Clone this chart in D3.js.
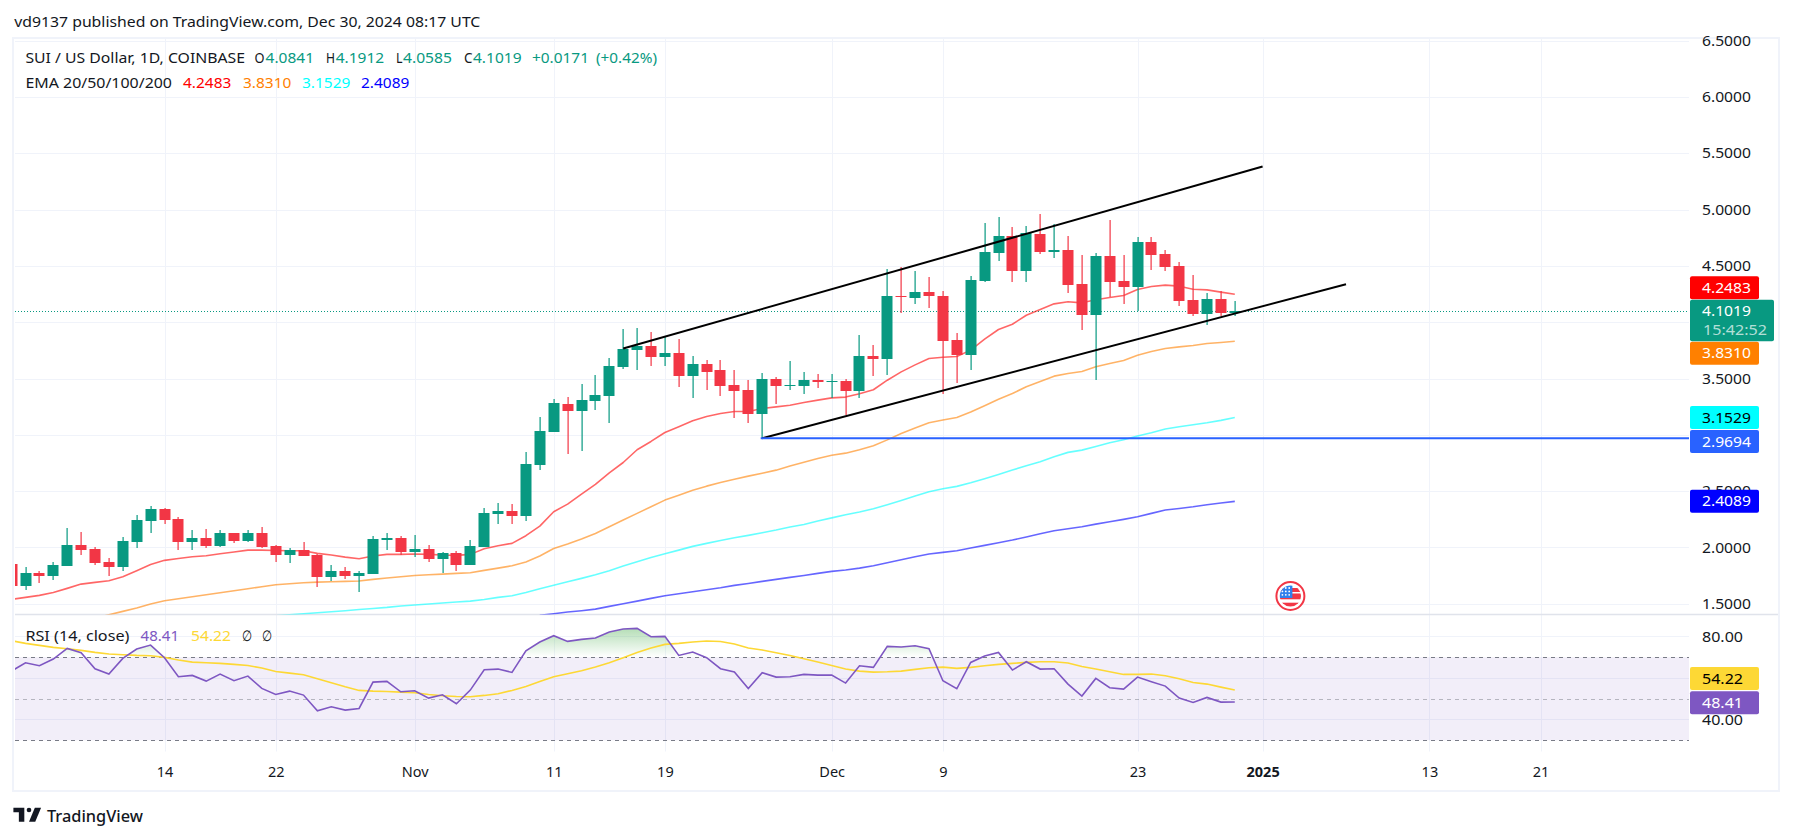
<!DOCTYPE html>
<html><head><meta charset="utf-8">
<style>html,body{margin:0;padding:0;background:#fff}svg{display:block}text{font-family:"Noto Sans",sans-serif}</style>
<script src="https://cdn.jsdelivr.net/npm/d3@7/dist/d3.min.js"></script>
</head><body><svg id="c" width="1793" height="839"></svg>
<script>
const opens=[1.852,1.657,1.772,1.745,1.834,2.021,1.985,1.870,1.825,2.047,2.234,
2.340,2.252,2.047,2.083,2.012,2.127,2.056,2.127,2.012,1.932,1.976,1.932,1.737,1.790,1.745,1.763,2.065,2.083,1.959,1.985,1.896,1.950,1.843,2.003,2.296,2.323,2.278,2.731,3.024,
3.272,3.210,3.299,3.343,3.601,3.752,3.787,3.689,3.725,3.521,3.627,3.574,3.441,3.396,3.183,3.494,3.432,3.432,3.485,3.467,3.476,3.388,3.698,
3.672,4.231,4.213,4.267,4.231,3.840,3.707,4.364,4.613,4.764,4.453,4.782,4.622,4.640,4.338,4.062,4.586,4.364,4.311,4.711,4.604,4.498,4.196,4.071,4.204,4.0841];
const highs=[1.873,1.825,1.790,1.870,2.172,2.136,2.003,1.905,2.092,2.287,2.367,
2.349,2.269,2.154,2.163,2.154,2.127,2.154,2.181,2.021,1.994,2.047,1.941,1.843,1.825,1.790,2.101,2.127,2.101,2.110,2.021,1.959,1.967,2.065,2.349,2.394,2.385,2.847,3.157,3.317,
3.334,3.450,3.530,3.681,3.938,3.947,3.911,3.867,3.849,3.698,3.663,3.663,3.574,3.485,3.547,3.512,3.654,3.556,3.538,3.538,3.494,3.885,3.796,
4.471,4.489,4.453,4.400,4.276,3.903,4.409,4.879,4.933,4.844,4.853,4.959,4.870,4.764,4.595,4.613,4.906,4.595,4.755,4.755,4.640,4.533,4.418,4.258,4.276,4.1912];
const lows=[1.651,1.621,1.683,1.710,1.834,1.932,1.843,1.745,1.790,1.994,2.127,
2.207,1.976,1.976,1.994,2.003,2.038,2.047,1.994,1.870,1.861,1.923,1.648,1.701,1.719,1.603,1.763,1.976,1.932,1.914,1.870,1.772,1.790,1.843,2.003,2.207,2.207,2.234,2.687,3.024,
2.828,2.855,3.219,3.103,3.583,3.574,3.610,3.610,3.423,3.325,3.396,3.343,3.148,3.103,2.970,3.272,3.396,3.361,3.414,3.331,3.174,3.325,3.521,
3.530,4.080,4.160,4.125,3.361,3.459,3.574,4.355,4.542,4.355,4.355,4.604,4.569,4.258,3.929,3.485,4.222,4.160,4.098,4.462,4.453,4.142,4.054,3.974,4.054,4.0585];
const closes=[1.657,1.772,1.745,1.843,2.021,1.976,1.861,1.825,2.056,2.243,2.340,
2.243,2.047,2.083,2.012,2.127,2.056,2.127,2.003,1.932,1.976,1.923,1.737,1.790,1.745,1.772,2.074,2.083,1.959,1.985,1.896,1.950,1.843,2.012,2.305,2.323,2.278,2.740,3.033,3.282,
3.210,3.308,3.352,3.610,3.760,3.787,3.689,3.725,3.521,3.627,3.556,3.432,3.388,3.183,3.494,3.432,3.441,3.485,3.467,3.476,3.388,3.698,3.672,
4.231,4.222,4.267,4.231,3.832,3.707,4.373,4.622,4.764,4.453,4.788,4.622,4.640,4.329,4.062,4.586,4.355,4.311,4.711,4.595,4.489,4.187,4.071,4.204,4.080,4.1019];
// EMA series run up to the last day; the older values sit below the pane and are not listed
const ema20=[1.538,1.556,1.574,1.600,1.636,1.674,1.689,1.704,1.740,1.793,1.849,
1.885,1.902,1.917,1.926,1.944,1.959,1.976,1.976,1.973,1.970,1.970,1.947,1.932,1.914,1.899,1.923,1.938,1.938,1.941,1.938,1.932,1.929,1.938,1.988,2.015,2.036,2.104,2.189,2.317,
2.384,2.473,2.559,2.662,2.754,2.867,2.941,3.020,3.071,3.124,3.163,3.189,3.207,3.207,3.234,3.248,3.263,3.287,3.308,3.328,3.335,3.364,3.400,
3.485,3.559,3.621,3.678,3.689,3.695,3.752,3.849,3.935,3.982,4.062,4.113,4.163,4.181,4.172,4.199,4.219,4.237,4.290,4.317,4.329,4.320,4.293,4.287,4.267,4.2483];
const ema50=[1.371,1.402,1.432,1.461,1.497,
1.526,1.544,1.562,1.580,1.597,1.615,1.633,1.651,1.668,1.677,1.686,1.692,1.695,1.698,1.701,1.716,1.728,1.740,1.751,1.757,1.763,1.769,1.775,1.796,1.816,1.837,1.870,1.923,1.990,
2.030,2.075,2.124,2.184,2.243,2.302,2.361,2.420,2.464,2.508,2.544,2.576,2.606,2.633,2.659,2.686,2.722,2.757,2.790,2.819,2.837,2.867,2.902,
2.955,3.012,3.060,3.107,3.131,3.154,3.202,3.258,3.316,3.367,3.426,3.473,3.521,3.544,3.562,3.604,3.633,3.660,3.707,3.740,3.766,3.781,3.793,3.811,3.820,3.831];
const ema100=[1.392,1.402,1.411,1.420,1.429,1.438,1.449,1.458,1.467,1.479,1.488,1.497,1.506,1.515,1.523,1.538,1.556,1.571,1.600,1.633,1.663,
1.695,1.725,1.757,1.793,1.834,1.873,1.911,1.944,1.976,2.009,2.036,2.062,2.086,2.107,2.130,2.154,2.181,2.204,2.235,2.262,2.290,2.314,2.343,
2.379,2.417,2.456,2.494,2.521,2.542,2.574,2.610,2.648,2.687,2.725,2.761,2.805,2.844,2.864,2.897,2.929,2.956,2.989,3.018,3.051,3.072,3.089,3.107,3.128,3.1529];
const ema200=[1.396,1.411,1.426,1.438,1.452,1.476,1.500,1.523,1.547,1.571,1.589,1.606,1.624,1.642,1.663,1.680,1.698,1.716,1.734,1.751,1.769,1.787,1.799,1.816,1.837,
1.864,1.890,1.917,1.941,1.956,1.970,1.994,2.018,2.041,2.065,2.092,2.121,2.148,2.166,2.184,2.207,2.228,2.249,2.272,2.302,2.332,2.346,2.361,2.379,2.394,2.4089];
const rsi=[63.29,67.31,65.86,69.08,74.22,72.13,64.42,61.85,69.40,73.90,75.82,
69.72,60.56,61.20,58.47,61.85,58.64,60.88,54.94,52.05,53.65,51.73,44.18,46.10,44.50,45.30,57.99,58.31,53.33,53.82,50.28,51.89,47.55,54.14,63.94,64.26,62.65,73.09,77.27,80.32,
77.59,78.55,79.20,82.09,83.53,83.86,79.84,80.00,70.84,72.45,69.72,64.42,62.81,54.94,62.49,60.40,60.56,61.69,61.37,61.37,57.51,65.86,65.06,
75.18,74.86,75.50,74.06,58.64,54.78,67.47,70.52,72.29,63.78,67.79,64.26,64.42,57.03,51.25,59.76,55.26,54.62,60.40,58.15,56.06,50.28,48.19,50.60,48.35,48.41];
const rsiMA=[77.91,76.63,75.66,74.70,74.06,73.25,72.29,71.49,71.16,70.84,70.68,
69.88,68.60,67.63,67.31,66.99,66.51,66.02,64.74,63.13,62.33,61.53,59.60,57.67,55.74,53.98,53.65,53.49,53.17,52.85,52.05,51.41,51.08,50.92,51.57,52.37,53.98,55.90,58.31,60.56,
62.01,63.45,65.22,67.31,69.72,72.29,74.38,76.14,76.63,77.27,77.75,77.51,76.31,74.38,73.41,72.13,70.84,69.24,67.63,66.02,64.26,63.29,62.81,
62.97,63.29,64.10,64.90,65.22,64.58,65.06,65.86,66.51,66.99,67.47,67.79,67.79,67.15,65.54,64.26,62.97,61.69,61.69,61.85,61.04,59.60,57.83,57.03,55.58,54.22];
const priceGrid=[6.5,6,5.5,5,4.5,4,3.5,3,2.5,2,1.5];
const priceTicks=[6.5,6,5.5,5,4.5,3.5,3,2.5,2,1.5];
const rsiTicks=[80,40];
const rsiGrid=[80,60,40];
const rsiBands=[70,50,30];
const timeTicks=[["2024-10-14","14"],["2024-10-22","22"],["2024-11-01","Nov"],["2024-11-11","11"],["2024-11-19","19"],["2024-12-01","Dec"],["2024-12-09","9"],["2024-12-23","23"],["2025-01-01","2025"],["2025-01-13","13"],["2025-01-21","21"]];
const upperTrend=[["2024-11-16",3.766],["2025-01-01",5.383]];
const lowerTrend=[["2024-11-26",2.9694],["2025-01-07",4.337]];
const supportLine=["2024-11-26",2.9694];
const lastClose=4.1019, emaLast=[4.2483,3.8310,3.1529,2.4089];

const D=s=>new Date(s+"T00:00:00Z");
const days=d3.utcDay.range(D("2024-10-03"),D("2024-12-31"));
const L=15,R=1689,T=39,MB=614.5,RB=751.5;
const x=d3.scaleUtc().domain([D("2024-10-14"),D("2024-12-30")]).range([164.5,164.5+77*13.9]);
const y=d3.scaleLinear().domain([1.5,6.5]).range([603.7,40.7]);
const ry=d3.scaleLinear().domain([30,80]).range([740.2,636.4]);
const svg=d3.select("#c");
const GRID="#f0f3fa",INK="#131722",UP="#089981",DN="#f23645";
const defs=svg.append("defs");
defs.append("clipPath").attr("id","mp").append("rect").attr("x",L).attr("y",T).attr("width",R-L).attr("height",MB-T);
defs.append("clipPath").attr("id","rp").append("rect").attr("x",L).attr("y",MB).attr("width",R-L).attr("height",RB-MB);
defs.append("clipPath").attr("id","ob").append("rect").attr("x",L).attr("y",MB).attr("width",R-L).attr("height",ry(70)-MB);
const gr=defs.append("linearGradient").attr("id","obg").attr("gradientUnits","userSpaceOnUse").attr("x1",0).attr("x2",0).attr("y1",ry(84)).attr("y2",ry(70));
gr.append("stop").attr("offset",0).attr("stop-color","#4caf50").attr("stop-opacity",.42);
gr.append("stop").attr("offset",1).attr("stop-color","#4caf50").attr("stop-opacity",0);
defs.append("clipPath").attr("id","flag").append("circle").attr("r",10.6);

function txt(g,s,px,py,o={}){
  const t=g.append("text").attr("x",px).attr("y",py).attr("dy",".35em").text(s)
    .attr("fill",o.fill||INK).attr("font-size",o.size||14).attr("font-weight",o.weight||400);
  if(o.anchor)t.attr("text-anchor",o.anchor);
  if(o.width)t.attr("textLength",o.width).attr("lengthAdjust","spacingAndGlyphs");
  return t;
}
// frame
svg.append("rect").attr("x",13).attr("y",38).attr("width",1766).attr("height",753).attr("fill","none").attr("stroke",GRID).attr("stroke-width",2);

// grid
const grid=svg.append("g");
grid.selectAll("line.h").data(priceGrid).join("line").attr("x1",L).attr("x2",R).attr("y1",d=>Math.round(y(d))+.5).attr("y2",d=>Math.round(y(d))+.5).attr("stroke",GRID);
grid.selectAll("line.v").data(timeTicks).join("line").attr("x1",d=>Math.round(x(D(d[0])))+.5).attr("x2",d=>Math.round(x(D(d[0])))+.5).attr("y1",T).attr("y2",RB).attr("stroke",GRID);
grid.selectAll("line.r").data(rsiGrid).join("line").attr("x1",L).attr("x2",R).attr("y1",d=>Math.round(ry(d))+.5).attr("y2",d=>Math.round(ry(d))+.5).attr("stroke",GRID);

// pane separator
svg.append("line").attr("x1",L).attr("x2",1778).attr("y1",614.5).attr("y2",614.5).attr("stroke","#e0e3eb").attr("stroke-width",1.6);

// main pane
const main=svg.append("g").attr("clip-path","url(#mp)");
main.append("line").attr("x1",L).attr("x2",R).attr("y1",Math.round(y(lastClose))+.5).attr("y2",Math.round(y(lastClose))+.5).attr("stroke",UP).attr("stroke-dasharray","1 2");
const series=(arr)=>{const off=days.length-arr.length;return arr.map((v,i)=>[days[off+i],v]);};
const ln=d3.line().x(d=>x(d[0])).y(d=>y(d[1]));
[[ema200,"#0000ff"],[ema100,"#00ffff"],[ema50,"#ff8000"],[ema20,"#ff0000"]].forEach(([a,c])=>{
  main.append("path").attr("d",ln(series(a))).attr("fill","none").attr("stroke",c).attr("stroke-width",1.6).attr("stroke-opacity",.6).attr("stroke-linejoin","round");
});
const candles=days.map((d,i)=>({d,o:opens[i],h:highs[i],l:lows[i],c:closes[i]}));
const cg=main.append("g");
cg.selectAll("rect.w").data(candles).join("rect").attr("x",d=>Math.round(x(d.d))-.5).attr("width",1.2)
  .attr("y",d=>Math.round(y(d.h))).attr("height",d=>Math.max(1,Math.round(y(d.l))-Math.round(y(d.h))))
  .attr("fill",d=>d.c>=d.o?UP:DN);
cg.selectAll("rect.b").data(candles).join("rect").attr("x",d=>Math.round(x(d.d))-5.5).attr("width",11)
  .attr("y",d=>Math.round(y(Math.max(d.o,d.c)))).attr("height",d=>Math.max(1,Math.round(y(Math.min(d.o,d.c)))-Math.round(y(Math.max(d.o,d.c)))))
  .attr("fill",d=>d.c>=d.o?UP:DN);
// drawings
[upperTrend,lowerTrend].forEach(t=>{
  main.append("line").attr("x1",x(D(t[0][0]))).attr("y1",y(t[0][1])).attr("x2",x(D(t[1][0]))).attr("y2",y(t[1][1])).attr("stroke","#000").attr("stroke-width",2);
});
main.append("line").attr("x1",x(D(supportLine[0]))-1.5).attr("x2",R).attr("y1",y(supportLine[1])).attr("y2",y(supportLine[1])).attr("stroke","#2962ff").attr("stroke-width",2);

// flag event marker
const fl=svg.append("g").attr("transform",`translate(${x(D("2025-01-03"))},${596})`);
fl.append("circle").attr("r",14).attr("fill","#fff").attr("stroke",DN).attr("stroke-width",2);
const fi=fl.append("g").attr("clip-path","url(#flag)");
fi.append("rect").attr("x",-11).attr("y",-11).attr("width",22).attr("height",22).attr("fill","#fff");
fi.append("rect").attr("x",-11).attr("y",-8).attr("width",22).attr("height",4).attr("fill",DN);
fi.append("rect").attr("x",-11).attr("y",-2.5).attr("width",22).attr("height",5.8).attr("fill",DN);
fi.append("rect").attr("x",-11).attr("y",6.7).attr("width",22).attr("height",4.5).attr("fill",DN);
fi.append("rect").attr("x",-11).attr("y",-11).attr("width",13).attr("height",13).attr("fill","#2f80ed");
d3.cross([-8,-4.6,-1.2],[-8,-4.6,-1.2]).forEach(([a,b])=>fi.append("circle").attr("cx",a).attr("cy",b).attr("r",.9).attr("fill","#fff"));

// RSI pane
const rp=svg.append("g").attr("clip-path","url(#rp)");
rp.append("rect").attr("x",L).attr("width",R-L).attr("y",ry(70)).attr("height",ry(30)-ry(70)).attr("fill","#7e57c2").attr("fill-opacity",.1);
rsiBands.forEach((v,i)=>rp.append("line").attr("x1",L).attr("x2",R).attr("y1",Math.round(ry(v))+.5).attr("y2",Math.round(ry(v))+.5)
  .attr("stroke","#787b86").attr("stroke-dasharray","4 4").attr("stroke-opacity",i==1?.5:1));
const rl=d3.line().x(d=>x(d[0])).y(d=>ry(d[1]));
const ra=d3.area().x(d=>x(d[0])).y0(ry(70)).y1(d=>ry(d[1]));
rp.append("path").attr("d",ra(series(rsi))).attr("fill","url(#obg)").attr("clip-path","url(#ob)");
rp.append("path").attr("d",rl(series(rsiMA))).attr("fill","none").attr("stroke","#fdd835").attr("stroke-width",1.6);
rp.append("path").attr("d",rl(series(rsi))).attr("fill","none").attr("stroke","#7e57c2").attr("stroke-width",1.6);

// axes
const AXF='"Noto Sans",sans-serif';
const pa=d3.axisRight(y).tickValues(priceTicks).tickSize(0).tickPadding(13).tickFormat(d3.format(".4f"));
const pag=svg.append("g").attr("transform",`translate(${R},0)`).call(pa);
const raxis=d3.axisRight(ry).tickValues(rsiTicks).tickSize(0).tickPadding(13).tickFormat(d3.format(".2f"));
const rag=svg.append("g").attr("transform",`translate(${R},0)`).call(raxis);
const ta=d3.axisBottom(x).tickValues(timeTicks.map(d=>D(d[0]))).tickSize(0).tickPadding(0).tickFormat((d,i)=>timeTicks[i][1]);
const tag=svg.append("g").attr("transform",`translate(0,${767})`).call(ta);
[pag,rag,tag].forEach(g=>{g.select(".domain").remove();g.selectAll("text").attr("font-family",AXF).attr("font-size",14.5).attr("fill",INK);});
pag.selectAll("text").attr("textLength",49).attr("lengthAdjust","spacingAndGlyphs");
rag.selectAll("text").attr("textLength",41).attr("lengthAdjust","spacingAndGlyphs");
tag.selectAll("text").filter(d=>+d===+D("2025-01-01")).attr("font-weight",700);

// price labels
const box=(v,scale,nudge,bg,fg,s,h=23,w=69)=>{
  const c=scale(v)+nudge;
  svg.append("rect").attr("x",1690).attr("y",c-h/2).attr("width",w).attr("height",h).attr("rx",2).attr("fill",bg);
  if(s)txt(svg,s,1702,c,{fill:fg,size:14.5,width:s.length>5?49:41});
};
const f4=d3.format(".4f"),f2=d3.format(".2f");
box(emaLast[0],y,-6.5,"#ff0000","#fff",f4(emaLast[0]));
box(emaLast[1],y,12,"#ff8000","#fff",f4(emaLast[1]));
box(emaLast[2],y,0,"#00ffff","#000",f4(emaLast[2]));
box(supportLine[1],y,3.3,"#2962ff","#fff",f4(supportLine[1]));
box(emaLast[3],y,0,"#0000ff","#fff",f4(emaLast[3]));
const gc=y(lastClose);
svg.append("rect").attr("x",1690).attr("y",gc-11).attr("width",84).attr("height",41.5).attr("rx",2).attr("fill",UP);
txt(svg,f4(lastClose),1702,gc,{fill:"#fff",size:14.5,width:49});
txt(svg,"15:42:52",1703,gc+19.5,{fill:"#fff",size:14.5,width:64}).attr("fill-opacity",.7);
box(rsiMA[rsiMA.length-1],ry,-11.3,"#fdd835","#000",f2(rsiMA[rsiMA.length-1]));
box(rsi[rsi.length-1],ry,.7,"#7e57c2","#fff",f2(rsi[rsi.length-1]));

// header + legends
txt(svg,"vd9137 published on TradingView.com, Dec 30, 2024 08:17 UTC",14.3,21.5,{size:14.5,width:466});
const G=UP;
[["SUI / US Dollar, 1D, COINBASE",25.4,219.6,INK],["O",254.5,10,INK],["4.0841",265.6,48.4,G],["H",326,9,INK],["4.1912",335.7,48.4,G],["L",396,6.5,INK],["4.0585",403,49,G],["C",464,8.5,INK],["4.1019",473,48.5,G],["+0.0171",532,57,G],["(+0.42%)",596,61,G]]
 .forEach(a=>txt(svg,a[0],a[1],58,{size:14.5,width:a[2],fill:a[3]}));
[["EMA 20/50/100/200",25.4,146.6,INK],["4.2483",183,48.3,"#ff0000"],["3.8310",243,48.3,"#ff8000"],["3.1529",302,48.3,"#00ffff"],["2.4089",361,48.3,"#0000ff"]]
 .forEach(a=>txt(svg,a[0],a[1],83,{size:14.5,width:a[2],fill:a[3]}));
[["RSI (14, close)",25.4,104,INK],["48.41",140.6,38.4,"#7e57c2"],["54.22",191,40,"#fdd835"],["∅",241.5,10,INK],["∅",262,10,INK]]
 .forEach(a=>txt(svg,a[0],a[1],636,{size:14.5,width:a[2],fill:a[3]}));

// logo
const lg=svg.append("g").attr("transform","translate(13.4,803) scale(.78)").attr("fill",INK);
lg.append("path").attr("d","M14 6H0v6h7v12h7V6Z");
lg.append("circle").attr("cx",20).attr("cy",9).attr("r",3);
lg.append("path").attr("d","M28 24h-8l7.5-18h8L28 24Z");
txt(svg,"TradingView",47,816,{size:17,width:96,weight:500});
</script></body></html>
